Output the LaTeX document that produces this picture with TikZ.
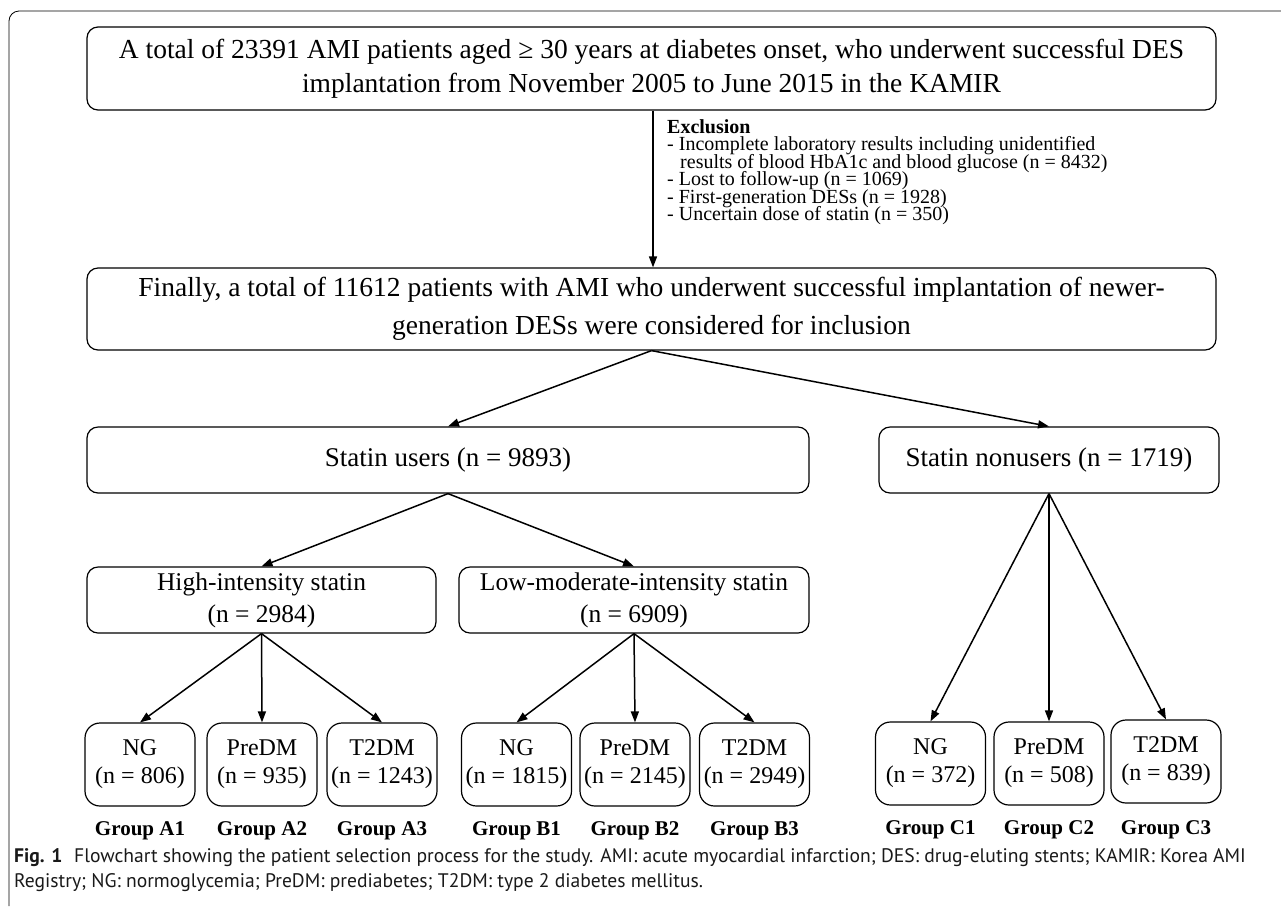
\documentclass[tikz,border=0pt]{standalone}
\usepackage{fontspec}
\setmainfont{Liberation Serif}
\newfontfamily\capfont{PT Sans}
\usetikzlibrary{arrows.meta}
\lineskiplimit=-20pt

\begin{document}
\begin{tikzpicture}[x=1pt,y=-1pt]
            \tikzstyle{every node}+=[inner sep=0pt]
            \tikzstyle{box}=[draw=black, line width=1.2pt, rounded corners=11pt, align=center]
            \tikzstyle{grpbox}=[box, rounded corners=15pt, minimum width=110pt, minimum height=83pt, font=\fontsize{24}{28}\selectfont]
            \tikzstyle{grplabel}=[font=\bfseries\fontsize{21}{24}\selectfont]
            \tikzstyle{arr}=[line width=1.5pt, -{Triangle[length=11pt,width=8pt]}]
            \useasboundingbox (0,0) rectangle (1281,906);
            \draw [line width=0.8pt, rounded corners=10pt] (1281,11) -- (9,11) -- (9,906);
            \node [box, minimum width=1129pt, minimum height=83pt, font=\fontsize{27.5}{34}\selectfont] (total) at (651.5,68.5) {A total of 23391 AMI patients aged ≥ 30 years at diabetes onset, who underwent successful DES\\implantation from November 2005 to June 2015 in the KAMIR};
            \node [box, minimum width=1129pt, minimum height=82pt, font=\fontsize{27.5}{38}\selectfont] (final) at (651.5,309) {Finally, a total of 11612 patients with AMI who underwent successful implantation of newer-\\generation DESs were considered for inclusion};
            \draw [arr] (total.south -| 653,0) -- (final.north -| 653,0);
            \node [anchor=north west, align=left, font=\fontsize{20}{17.5}\selectfont] (excl) at (667,119) {\textbf{Exclusion}\\- Incomplete laboratory results including unidentified\\\hspace*{13pt}results of blood HbA1c and blood glucose (n = 8432)\\- Lost to follow-up (n = 1069)\\- First-generation DESs (n = 1928)\\- Uncertain dose of statin (n = 350)};
            \node [box, minimum width=722pt, minimum height=66pt, font=\fontsize{27}{30}\selectfont] (users) at (448,460) {Statin users (n = 9893)};
            \node [box, minimum width=340pt, minimum height=66pt, font=\fontsize{27}{30}\selectfont] (nonusers) at (1049,460) {Statin nonusers (n = 1719)};
            \draw [arr] (final.south) -- (users.north);
            \draw [arr] (final.south) -- (nonusers.north);
            \node [box, minimum width=349pt, minimum height=66pt, font=\fontsize{25.5}{32}\selectfont] (high) at (261.5,600) {High-intensity statin\\(n = 2984)};
            \node [box, minimum width=350pt, minimum height=66pt, font=\fontsize{25.5}{32}\selectfont] (low) at (634,600) {Low-moderate-intensity statin\\(n = 6909)};
            \draw [arr] (users.south) -- (high.north);
            \draw [arr] (users.south) -- (low.north);
            \node [grpbox] (a1) at (140,764.5) {NG\\(n = 806)};
            \node [grpbox] (a2) at (262,764.5) {PreDM\\(n = 935)};
            \node [grpbox] (a3) at (382,764.5) {T2DM\\(n = 1243)};
            \node [grpbox] (b1) at (516.5,764.5) {NG\\(n = 1815)};
            \node [grpbox] (b2) at (635,764.5) {PreDM\\(n = 2145)};
            \node [grpbox] (b3) at (754.5,764.5) {T2DM\\(n = 2949)};
            \node [grpbox] (c1) at (930.5,763.5) {NG\\(n = 372)};
            \node [grpbox] (c2) at (1049,763.5) {PreDM\\(n = 508)};
            \node [grpbox] (c3) at (1166,761.5) {T2DM\\(n = 839)};
            \draw [arr] (high.south) -- (a1.north);
            \draw [arr] (high.south) -- (a2.north);
            \draw [arr] (high.south) -- (a3.north);
            \draw [arr] (low.south) -- (b1.north);
            \draw [arr] (low.south) -- (b2.north);
            \draw [arr] (low.south) -- (b3.north);
            \draw [arr] (nonusers.south) -- (c1.north);
            \draw [arr] (nonusers.south) -- (c2.north);
            \draw [arr] (nonusers.south) -- (c3.north);
            \node [grplabel] (a1lbl) at (140,831) {Group A1};
            \node [grplabel] (a2lbl) at (262,831) {Group A2};
            \node [grplabel] (a3lbl) at (382,831) {Group A3};
            \node [grplabel] (b1lbl) at (516.5,831) {Group B1};
            \node [grplabel] (b2lbl) at (635,831) {Group B2};
            \node [grplabel] (b3lbl) at (754.5,831) {Group B3};
            \node [grplabel] (c1lbl) at (930.5,830) {Group C1};
            \node [grplabel] (c2lbl) at (1049,830) {Group C2};
            \node [grplabel] (c3lbl) at (1166,830) {Group C3};
            \node [anchor=north west, align=left, text=black!90, font=\capfont\fontsize{19.6}{25}\selectfont] (caption) at (14,848) {\textbf{Fig. 1}\hspace{0.6em}Flowchart showing the patient selection process for the study. AMI: acute myocardial infarction; DES: drug-eluting stents; KAMIR: Korea AMI\\Registry; NG: normoglycemia; PreDM: prediabetes; T2DM: type 2 diabetes mellitus.};
        \end{tikzpicture}
\end{document}
